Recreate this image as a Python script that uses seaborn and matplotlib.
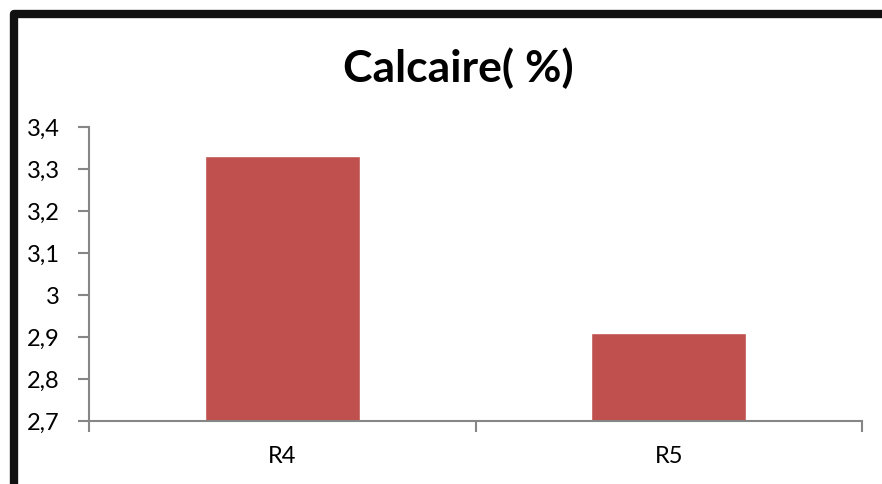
import matplotlib
matplotlib.use('Agg')
import matplotlib.pyplot as plt
import seaborn as sns
import pandas as pd
from matplotlib.patches import Rectangle
from matplotlib.ticker import FuncFormatter, MultipleLocator

# data
categories = ['R4', 'R5']
calcaire = [3.33, 2.91]

df = pd.DataFrame({'site': categories, 'calcaire': calcaire})

sns.set_style('white')
plt.rcParams['font.family'] = ['Lato', 'DejaVu Sans']
plt.rcParams['text.color'] = 'black'
plt.rcParams['xtick.color'] = 'black'
plt.rcParams['ytick.color'] = 'black'

fig = plt.figure(figsize=(8.82, 4.84), dpi=100)
ax = fig.add_axes([89 / 882, 1 - 421 / 484, (862 - 89) / 882, (421 - 127) / 484])

sns.barplot(data=df, x='site', y='calcaire', color='#C0504D', saturation=1,
            width=0.4, ax=ax)

ax.set_ylim(2.7, 3.4)
ax.set_xlim(-0.5, 1.5)
ax.yaxis.set_major_locator(MultipleLocator(0.1))
ax.yaxis.set_major_formatter(FuncFormatter(lambda v, p: f'{v:.1f}'.replace('.', ',').replace(',0', '')))

# x ticks at category boundaries, labels centred
ax.set_xticks([-0.5, 0.5, 1.5])
ax.set_xticklabels([])
ax.set_xticks([0, 1], minor=True)
ax.set_xticklabels(categories, minor=True)
ax.tick_params(axis='x', which='minor', bottom=False, length=0, pad=18, labelsize=17)
ax.tick_params(axis='x', which='major', bottom=True, length=8, width=1.5,
               color='#868686', direction='out')
ax.tick_params(axis='y', left=True, length=8, width=1.5, color='#868686',
               direction='out', pad=13, labelsize=17)

for side in ['top', 'right']:
    ax.spines[side].set_visible(False)
for side in ['left', 'bottom']:
    ax.spines[side].set_color('#868686')
    ax.spines[side].set_linewidth(1.5)

ax.set_xlabel('')
ax.set_ylabel('')

fig.text(458 / 882, 1 - 68 / 484, 'Calcaire( %)', ha='center', va='center',
         fontsize=32, fontweight='bold', color='black')

# thick outer border, only top and left fall inside the image
fig.patches.append(Rectangle((14 / 882, -0.2), 1.2, 1 - 14 / 484 + 0.2,
                             transform=fig.transFigure, fill=False,
                             edgecolor='#111111', linewidth=6, joinstyle='round'))

fig.savefig('out.png', dpi=100)
